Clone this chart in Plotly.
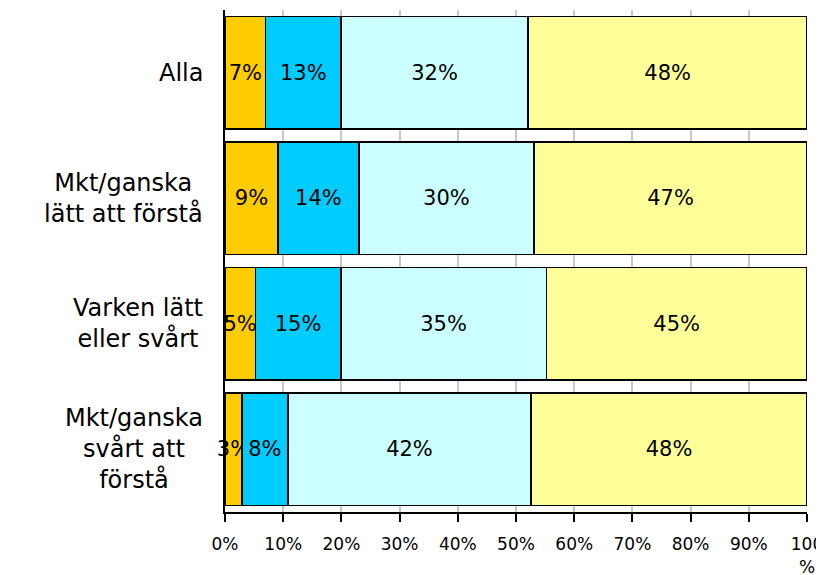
import plotly.graph_objects as go

categories = ["Alla", "Mkt/ganska<br>lätt att förstå", "Varken lätt<br>eller svårt", "Mkt/ganska<br>svårt att<br>förstå"]
series_names = ["S1", "S2", "S3", "S4"]
s1 = [7.0, 9.1, 5.2, 2.9]
s2 = [12.9, 13.9, 14.7, 7.9]
s3 = [32.2, 30.1, 35.3, 41.8]
s4 = [47.9, 46.9, 44.8, 47.4]
s1_labels = ["7%", "9%", "5%", "3%"]
s2_labels = ["13%", "14%", "15%", "8%"]
s3_labels = ["32%", "30%", "35%", "42%"]
s4_labels = ["48%", "47%", "45%", "48%"]
tick_vals = [0, 10, 20, 30, 40, 50, 60, 70, 80, 90, 100]
tick_text = ["0%", "10%", "20%", "30%", "40%", "50%", "60%", "70%", "80%", "90%", "100<br>%"]

colors = ["#FFCC00", "#00CCFF", "#CCFFFF", "#FFFF99"]
values = [s1, s2, s3, s4]
labels = [s1_labels, s2_labels, s3_labels, s4_labels]

fig = go.Figure()
for name, v, lab, c in zip(series_names, values, labels, colors):
    fig.add_trace(go.Bar(
        y=categories, x=v, name=name, orientation="h",
        marker=dict(color=c, line=dict(color="black", width=1.5)),
        text=lab, textposition="inside", insidetextanchor="middle",
        textangle=0, constraintext="none", cliponaxis=False,
        textfont=dict(family="DejaVu Sans", size=21, color="black"),
        hoverinfo="skip",
    ))

# category labels, centred multi-line blocks placed at each category
for cat in categories:
    fig.add_annotation(
        x=0, xref="paper", y=cat, yref="y",
        xanchor="right", yanchor="middle", xshift=-20,
        text=cat, showarrow=False, align="center",
        font=dict(family="DejaVu Sans", size=24, color="black"),
    )

fig.update_layout(
    barmode="stack", bargap=0.1, showlegend=False,
    width=816, height=567,
    margin=dict(l=217, r=17, t=2, b=63, autoexpand=False),
    plot_bgcolor="white", paper_bgcolor="white",
    font=dict(family="DejaVu Sans", color="black"),
    uniformtext=dict(minsize=21, mode="show"),
)
fig.update_xaxes(
    range=[0, 100], tickvals=tick_vals, ticktext=tick_text,
    showgrid=True, gridcolor="#C8C8C8", gridwidth=1.5,
    showline=True, linecolor="black", linewidth=2,
    ticks="outside", ticklen=8, tickwidth=1.5, tickcolor="black",
    tickfont=dict(family="DejaVu Sans", size=17, color="black"),
    ticklabelstandoff=8, ticklabeloverflow="allow",
    zeroline=False, fixedrange=True,
)
fig.update_yaxes(
    autorange="reversed",
    showline=True, linecolor="black", linewidth=1.5,
    ticks="", showticklabels=False, fixedrange=True,
)
fig.write_html("out.html")
